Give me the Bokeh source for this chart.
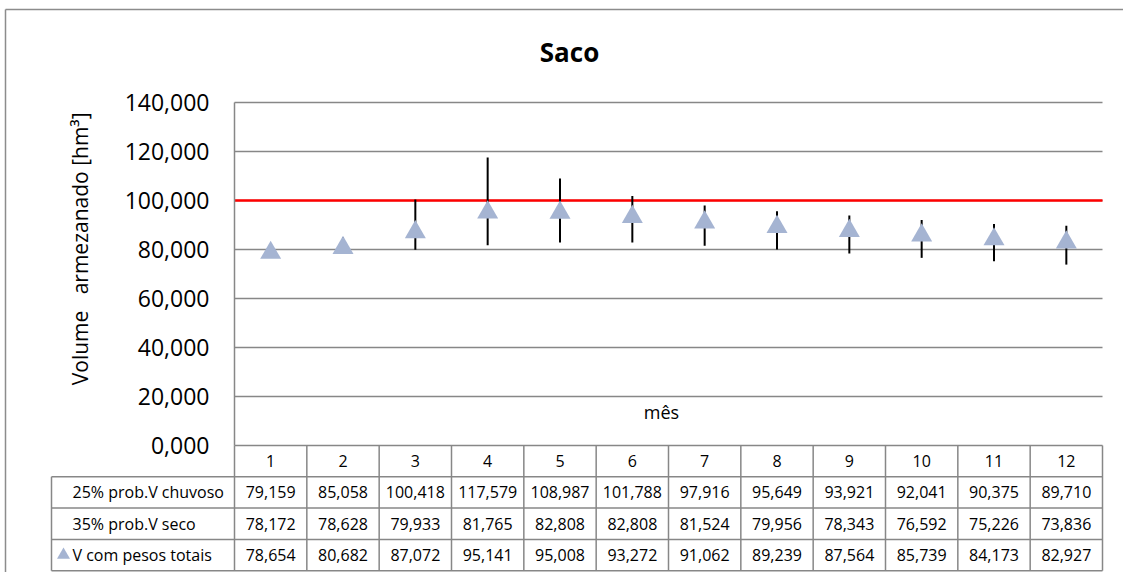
import math
from bokeh.plotting import figure
from bokeh.models import Range1d, FixedTicker, LinearAxis
from bokeh.core.properties import value
from bokeh.embed import file_html
from bokeh.resources import INLINE

# ---------------- data ----------------
months = [1, 2, 3, 4, 5, 6, 7, 8, 9, 10, 11, 12]
v_chuvoso = [79.159, 85.058, 100.418, 117.579, 108.987, 101.788, 97.916, 95.649, 93.921, 92.041, 90.375, 89.710]
v_seco = [78.172, 78.628, 79.933, 81.765, 82.808, 82.808, 81.524, 79.956, 78.343, 76.592, 75.226, 73.836]
v_pesos = [78.654, 80.682, 87.072, 95.141, 95.008, 93.272, 91.062, 89.239, 87.564, 85.739, 84.173, 82.927]
row_labels = ["25% prob.V chuvoso", "35% prob.V seco", "V com pesos totais"]
y_ticks = [0, 20, 40, 60, 80, 100, 120, 140]
limit_value = 100
title_text = "Saco"
y_label_text = "Volume  armezanado [hm³]"
x_label_text = "mês"

# ---------------- geometry / style ----------------
FONT = "Open Sans"
GRID = "#878787"
TRI = "#A5B4D2"
W, H = 1123, 572
PX = 868.0 / 12.0          # px per month
PY = 343.0 / 140.0         # px per unit of volume
x_lo, x_hi = months[0] - 0.5, months[-1] + 0.5
x0 = x_lo - 234.0 / PX
x1 = x0 + W / PX
y_top = y_ticks[-1]
y1 = y_top + 102.0 / PY
y0 = y1 - H / PY
rh = 31.3 / PY             # table row height (data units)
x_tab = x_lo - 183.0 / PX  # left edge of table label column

def fmt(v):
    return f"{v:.3f}".replace(".", ",")

p = figure(width=W, height=H, x_range=Range1d(x0, x1), y_range=Range1d(y0, y1),
           x_axis_type=None, y_axis_type=None, output_backend="svg",
           toolbar_location=None, min_border=0)
p.outline_line_color = None
p.background_fill_color = "white"
p.border_fill_color = "white"

# horizontal gridlines across the plot area
p.segment(x0=[x_lo] * len(y_ticks), y0=y_ticks, x1=[x_hi] * len(y_ticks), y1=y_ticks,
          line_color=GRID, line_width=1.5)

# y axis drawn at the left edge of plot area
yaxis = LinearAxis(fixed_location=x_lo, bounds=(y_ticks[0], y_ticks[-1]),
                   ticker=FixedTicker(ticks=y_ticks),
                   major_label_overrides={t: fmt(t) for t in y_ticks},
                   major_tick_in=0, major_tick_out=0, minor_tick_in=0, minor_tick_out=0,
                   major_label_standoff=25,
                   axis_line_color=GRID, axis_line_width=1.5,
                   major_label_text_font=FONT, major_label_text_font_size="23px",
                   major_label_text_color="black")
p.add_layout(yaxis, "left")

# outer chart border (top and left)
bx = x_lo - 229.0 / PX
by = y_top + 93.0 / PY
p.segment(x0=[bx, bx], y0=[by, y0], x1=[x1, bx], y1=[by, by],
          line_color="#8c8c8c", line_width=1.5)

# limit line
p.line(x=[x_lo, x_hi], y=[limit_value, limit_value], line_color="#FF0000", line_width=2.5)

# range bars (seco -> chuvoso)
p.segment(x0=months, y0=v_seco, x1=months, y1=v_chuvoso, line_color="black", line_width=2)

# markers
p.scatter(x=months, y=v_pesos, marker="triangle", size=21, fill_color=TRI, line_color=None)

# title, axis labels
p.text(x=[x_lo + 335.0 / PX], y=[y_top + 51.0 / PY], text=[title_text],
       text_font=value(FONT), text_font_size="26px", text_font_style="bold",
       text_align="center", text_baseline="middle", text_color="black")
p.text(x=[x_lo - 155.0 / PX], y=[y_top - 10.0 / PY],
       text=[y_label_text.replace("  ", "\u00a0\u00a0\u00a0")],
       angle=math.pi / 2,
       text_font=value(FONT), text_font_size="21px",
       text_align="right", text_baseline="middle", text_color="black")
p.text(x=[x_lo + 427.0 / PX], y=[34.0 / PY], text=[x_label_text],
       text_font=value(FONT), text_font_size="18px",
       text_align="center", text_baseline="middle", text_color="black")

# ---------------- data table ----------------
hy = [-rh * k for k in range(1, 5)]
p.segment(x0=[x_tab] * 4, y0=hy, x1=[x_hi] * 4, y1=hy, line_color=GRID, line_width=1.5)
vx = [m - 0.5 for m in months] + [x_hi]
p.segment(x0=vx, y0=[0] * len(vx), x1=vx, y1=[-4 * rh] * len(vx), line_color=GRID, line_width=1.5)
p.segment(x0=[x_tab], y0=[-rh], x1=[x_tab], y1=[-4 * rh], line_color=GRID, line_width=1.5)

p.text(x=months, y=[-0.5 * rh] * 12, text=[str(m) for m in months],
       text_font=value(FONT), text_font_size="16px",
       text_align="center", text_baseline="middle", text_color="black")

rows = [v_chuvoso, v_seco, v_pesos]
for i, (lab, vals) in enumerate(zip(row_labels, rows)):
    yy = -(i + 1.5) * rh
    p.text(x=months, y=[yy] * 12, text=[fmt(v) for v in vals],
           text_font=value(FONT), text_font_size="16px",
           text_align="center", text_baseline="middle", text_color="black")
    p.text(x=[x_tab + 21.0 / PX], y=[yy], text=[lab],
           text_font=value(FONT), text_font_size="16px",
           text_align="left", text_baseline="middle", text_color="black")

p.scatter(x=[x_tab + 12.0 / PX], y=[-3.5 * rh], marker="triangle", size=13,
          fill_color=TRI, line_color=None)

open("out.html", "w").write(file_html(p, INLINE))
